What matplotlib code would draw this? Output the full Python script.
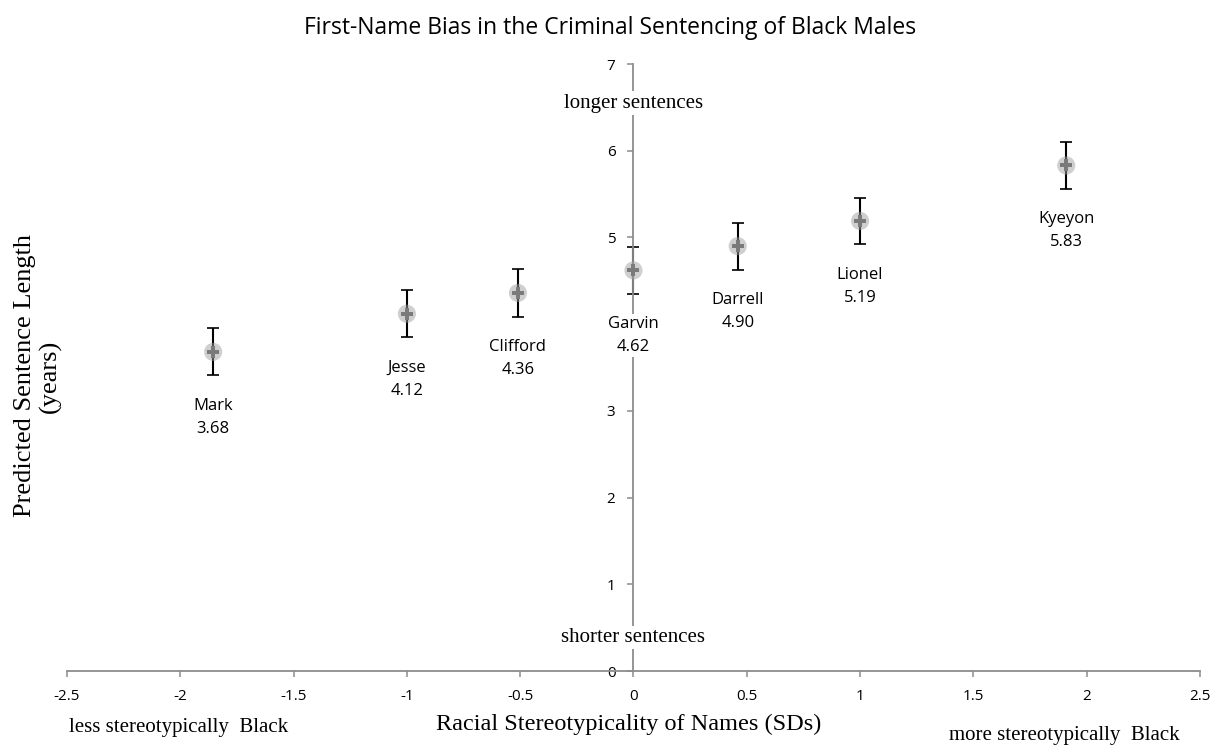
import matplotlib.pyplot as plt

## data
NAMES = ["Mark", "Jesse", "Clifford", "Garvin", "Darrell", "Lionel", "Kyeyon"]
X_SD = [-1.855, -1.0, -0.51, 0.0, 0.46, 1.0, 1.91]
SENTENCE = [3.68, 4.12, 4.36, 4.62, 4.90, 5.19, 5.83]
ERR = [0.27, 0.27, 0.28, 0.27, 0.27, 0.27, 0.27]
X_TICKS = [-2.5, -2, -1.5, -1, -0.5, 0, 0.5, 1, 1.5, 2, 2.5]
Y_TICKS = [0, 1, 2, 3, 4, 5, 6, 7]

SANS = ["Open Sans", "DejaVu Sans"]
SERIF = ["Liberation Serif", "DejaVu Serif"]
AXIS_GRAY = "#8c8c8c"
WHITE_BOX = dict(facecolor="white", edgecolor="none", pad=1.5)


def main() -> None:
    fig = plt.figure(figsize=(12.16, 7.46), dpi=100)
    ax = fig.add_axes([0.0551, 0.1005, 0.9317, 0.8137])
    ax.set_xlim(-2.5, 2.5)
    ax.set_ylim(0, 7)

    ax.spines["left"].set_position(("data", 0))
    ax.spines["bottom"].set_position(("data", 0))
    for side in ("top", "right"):
        ax.spines[side].set_visible(False)
    for side in ("left", "bottom"):
        ax.spines[side].set_color(AXIS_GRAY)
        ax.spines[side].set_linewidth(1.3)

    ax.set_xticks(X_TICKS)
    ax.set_xticklabels([f"{t:g}" for t in X_TICKS], family=SANS, fontsize=11)
    ax.set_yticks(Y_TICKS)
    ax.set_yticklabels([str(t) for t in Y_TICKS], family=SANS, fontsize=11)
    ax.tick_params(axis="both", direction="out", length=4, color=AXIS_GRAY, width=1.1)
    ax.tick_params(axis="x", pad=9)
    ax.tick_params(axis="y", pad=9)

    ax.errorbar(X_SD, SENTENCE, yerr=ERR, fmt="none", ecolor="black",
                elinewidth=1.5, capsize=4, capthick=1.2, zorder=2)
    ax.scatter(X_SD, SENTENCE, s=170, color="#a0a0a0", alpha=0.5,
               edgecolors="none", zorder=3)
    ax.scatter(X_SD, SENTENCE, s=75, color="#7a7a7a", marker="P",
               edgecolors="none", zorder=4)

    # name + value under each point, white box like the original
    for name, x, y in zip(NAMES, X_SD, SENTENCE):
        ax.annotate(f"{name}\n{y:.2f}", (x, y), xytext=(0, -47),
                    textcoords="offset points", ha="center", va="center",
                    family=SANS, fontsize=12, linespacing=1.6,
                    bbox=WHITE_BOX, zorder=6)

    ax.text(0, 6.55, "longer sentences", ha="center", va="center", family=SERIF,
            fontsize=15, bbox=WHITE_BOX, zorder=5)
    ax.text(0, 0.39, "shorter sentences", ha="center", va="center", family=SERIF,
            fontsize=15, bbox=WHITE_BOX, zorder=5)

    fig.text(0.502, 0.963, "First-Name Bias in the Criminal Sentencing of Black Males",
             ha="center", va="center", family=SANS, fontsize=16.5)
    fig.text(0.517, 0.029, "Racial Stereotypicality of Names (SDs)",
             ha="center", va="center", family=SERIF, fontsize=17.5)
    fig.text(0.057, 0.025, "less stereotypically  Black", ha="left", va="center",
             family=SERIF, fontsize=15)
    fig.text(0.970, 0.014, "more stereotypically  Black", ha="right", va="center",
             family=SERIF, fontsize=15)
    fig.text(0.031, 0.496, "Predicted Sentence Length\n(years)", ha="center",
             va="center", rotation=90, family=SERIF, fontsize=19, linespacing=1.15)

    fig.savefig("out.png", dpi=100)


if __name__ == "__main__":
    main()
